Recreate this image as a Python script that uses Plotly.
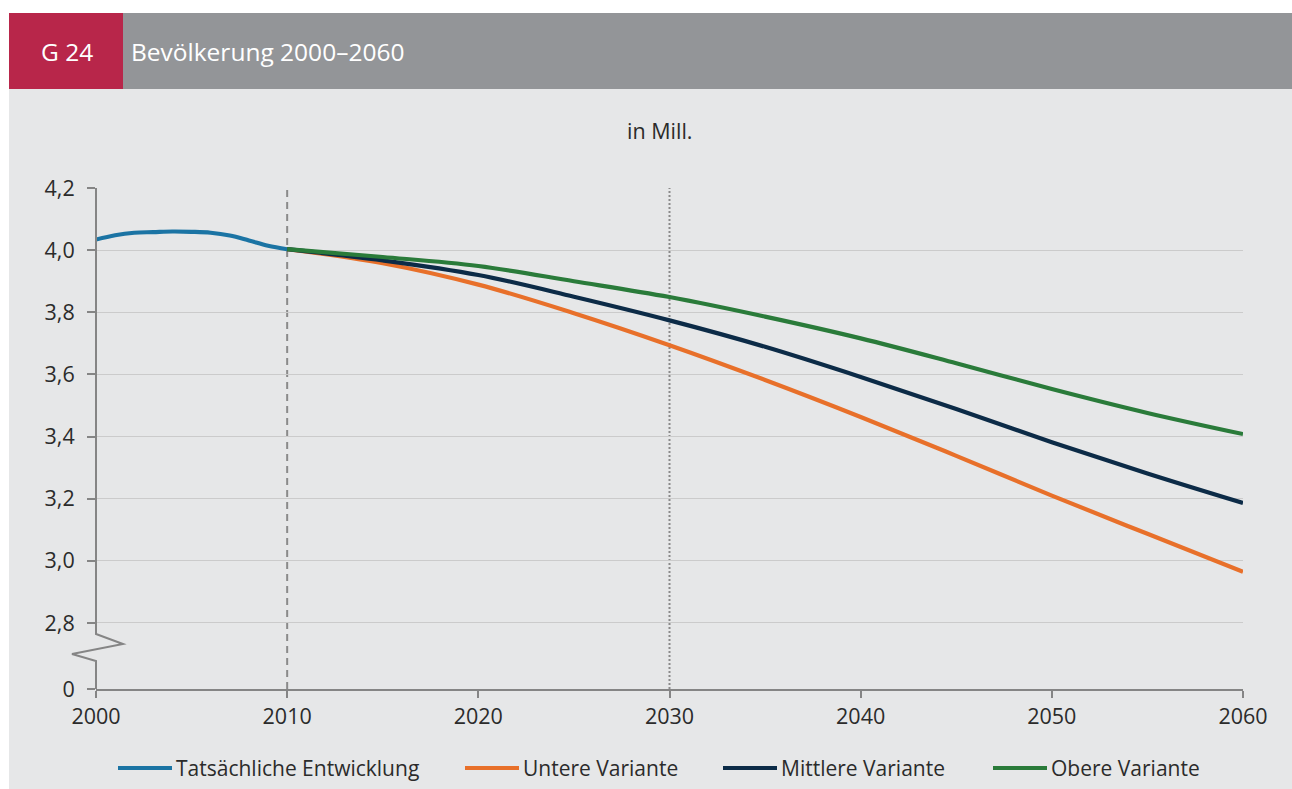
import plotly.graph_objects as go

# ---- data (population in millions) ----
YEARS_ACTUAL = [2000, 2001, 2002, 2003, 2004, 2005, 2006, 2007, 2008, 2009, 2010]
ACTUAL = [4.034, 4.048, 4.056, 4.058, 4.060, 4.059, 4.056, 4.047, 4.031, 4.014, 4.003]

YEARS_PROJ = [2010, 2015, 2020, 2025, 2030, 2035, 2040, 2045, 2050, 2055, 2060]
LOW = [4.003, 3.958, 3.889, 3.797, 3.694, 3.582, 3.463, 3.338, 3.210, 3.087, 2.965]
MID = [4.003, 3.967, 3.920, 3.850, 3.774, 3.689, 3.592, 3.489, 3.382, 3.281, 3.186]
HIGH = [4.003, 3.978, 3.949, 3.900, 3.849, 3.786, 3.716, 3.636, 3.553, 3.476, 3.408]

SERIES_NAMES = ["Tatsächliche Entwicklung", "Untere Variante", "Mittlere Variante", "Obere Variante"]
SERIES_COLORS = ["#1b74a4", "#e8702a", "#0c2b47", "#2a7b3a"]

X_TICKS = [2000, 2010, 2020, 2030, 2040, 2050, 2060]
Y_TICKS = [2.8, 3.0, 3.2, 3.4, 3.6, 3.8, 4.0, 4.2]
Y_BREAK_BASE = 2.5875  # position on the broken axis where "0" sits
MARKER_YEARS = [2010, 2030]

HEADER_TAG = "G 24"
HEADER_TITLE = "Bevölkerung 2000–2060"
UNIT_LABEL = "in Mill."

FONT = "Open Sans"
TXT = "#2b2b2b"
AXIS_GREY = "#858585"
BG = "#e6e7e8"

fig = go.Figure()

series = [(YEARS_ACTUAL, ACTUAL), (YEARS_PROJ, LOW), (YEARS_PROJ, MID), (YEARS_PROJ, HIGH)]
for (xs, ys), name, col in zip(series, SERIES_NAMES, SERIES_COLORS):
    fig.add_trace(go.Scatter(
        x=xs, y=ys, name=name, mode="lines",
        line=dict(color=col, width=4.2, shape="spline", smoothing=1.0),
        showlegend=False,
    ))

# plot-area geometry in pixels (for paper-coordinate decorations)
L, R, T, B = 96, 49, 188, 100
W, H = 1292, 789
PW, PH = W - L - R, H - T - B


def px(x):
    return (x - L) / PW


def py(y):
    return (H - B - y) / PH


shapes = []
# panel background, header bar and tag box
shapes.append(dict(type="rect", xref="paper", yref="paper", x0=px(9), x1=px(W), y0=py(H), y1=py(89),
                   fillcolor=BG, line_width=0, layer="below"))
shapes.append(dict(type="rect", xref="paper", yref="paper", x0=px(9), x1=px(W), y0=py(89), y1=py(13),
                   fillcolor="#939598", line_width=0, layer="below"))
shapes.append(dict(type="rect", xref="paper", yref="paper", x0=px(9), x1=px(123), y0=py(89), y1=py(13),
                   fillcolor="#b8264a", line_width=0, layer="below"))

# y axis line with break zigzag
path = (f"M {px(96)},{py(188)} L {px(96)},{py(634)} L {px(123)},{py(644)} "
        f"L {px(72)},{py(654)} L {px(96)},{py(661)} L {px(96)},{py(689)}")
shapes.append(dict(type="path", xref="paper", yref="paper", path=path,
                   line=dict(color=AXIS_GREY, width=2)))

# reference lines: last observed year and 2030
shapes.append(dict(type="line", xref="x", yref="paper", x0=MARKER_YEARS[0], x1=MARKER_YEARS[0], y0=0, y1=1,
                   line=dict(color="#8a8a8a", width=2, dash="7px,5px"), layer="below"))
shapes.append(dict(type="line", xref="x", yref="paper", x0=MARKER_YEARS[1], x1=MARKER_YEARS[1], y0=0, y1=1,
                   line=dict(color="#8a8a8a", width=2, dash="2px,2px"), layer="below"))

annotations = [
    dict(text=HEADER_TAG, xref="paper", yref="paper", x=px(67), y=py(51), showarrow=False,
         xanchor="center", yanchor="middle", font=dict(family=FONT, size=24.5, color="white")),
    dict(text=HEADER_TITLE, xref="paper", yref="paper", x=px(129), y=py(51), showarrow=False,
         xanchor="left", yanchor="middle", font=dict(family=FONT, size=24.5, color="white")),
    dict(text=UNIT_LABEL, xref="paper", yref="paper", x=px(659), y=py(130), showarrow=False,
         xanchor="center", yanchor="middle", font=dict(family=FONT, size=21.5, color=TXT)),
]

# legend drawn as line samples + labels
legend_line_x = [118, 465, 723, 993]
legend_y = 768
for x0, name, col in zip(legend_line_x, SERIES_NAMES, SERIES_COLORS):
    shapes.append(dict(type="line", xref="paper", yref="paper", x0=px(x0), x1=px(x0 + 54),
                       y0=py(legend_y), y1=py(legend_y), line=dict(color=col, width=4.2)))
    annotations.append(dict(text=name, xref="paper", yref="paper", x=px(x0 + 56), y=py(legend_y),
                            showarrow=False, xanchor="left", yanchor="middle",
                            font=dict(family=FONT, size=21, color=TXT)))

y_tickvals = [Y_BREAK_BASE] + Y_TICKS
y_ticktext = ["0"] + [f"{v:.1f}".replace(".", ",") for v in Y_TICKS]

fig.update_layout(
    width=W, height=H, autosize=False,
    margin=dict(l=L, r=R, t=T, b=B, pad=0),
    paper_bgcolor="white", plot_bgcolor=BG,
    font=dict(family=FONT, color=TXT, size=21),
    shapes=shapes, annotations=annotations,
    showlegend=False,
    xaxis=dict(range=[2000, 2060], tickvals=X_TICKS, showgrid=False, zeroline=False,
               showline=True, linecolor=AXIS_GREY, linewidth=2,
               ticks="outside", ticklen=7, tickwidth=1.5, tickcolor=AXIS_GREY,
               tickfont=dict(family=FONT, size=21.5, color=TXT)),
    yaxis=dict(range=[Y_BREAK_BASE, 4.2], tickvals=y_tickvals, ticktext=y_ticktext,
               showgrid=True, gridcolor="#cbcbcb", gridwidth=1, zeroline=False, showline=False,
               ticks="outside", ticklen=8, tickwidth=1.5, tickcolor=AXIS_GREY,
               ticklabelstandoff=8,
               tickfont=dict(family=FONT, size=21.5, color=TXT)),
)

fig.write_html("out.html")
